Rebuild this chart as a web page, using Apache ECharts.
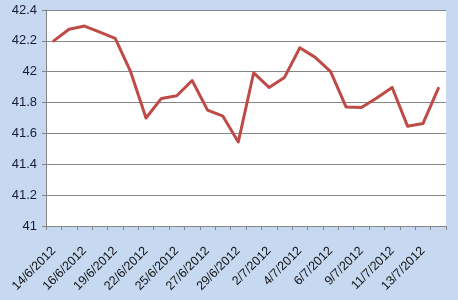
<!DOCTYPE html>
<html><head><meta charset="utf-8">
<script src="https://cdn.jsdelivr.net/npm/echarts@6/dist/echarts.min.js"></script>
<style>html,body{margin:0;padding:0;background:#c6d9f1;}#c{width:458px;height:300px;}</style>
</head><body><div id="c"></div>
<script>
const categories = ["14/6/2012","15/6/2012","16/6/2012","18/6/2012","19/6/2012","21/6/2012","22/6/2012","23/6/2012","25/6/2012","26/6/2012","27/6/2012","28/6/2012","29/6/2012","1/7/2012","2/7/2012","3/7/2012","4/7/2012","5/7/2012","6/7/2012","8/7/2012","9/7/2012","10/7/2012","11/7/2012","12/7/2012","13/7/2012","14/7/2012"];
const values = [42.20,42.275,42.296,42.256,42.216,42.0,41.70,41.827,41.844,41.943,41.751,41.712,41.545,41.993,41.898,41.963,42.155,42.093,42.0,41.772,41.768,41.83,41.898,41.647,41.664,41.892];
const yTicks = {min:41, max:42.4, step:0.2};

const chart = echarts.init(document.getElementById('c'), null, {renderer:'canvas'});
chart.setOption({
  backgroundColor:'#c6d9f1',
  animation:false,
  grid:{left:46,right:12,top:10,bottom:74,backgroundColor:'#ffffff',show:true,borderWidth:0},
  xAxis:{
    type:'category',
    data:categories,
    boundaryGap:true,
    axisLine:{lineStyle:{color:'#868686',width:1}},
    axisTick:{show:true,interval:0,length:4,lineStyle:{color:'#868686'}},
    axisLabel:{interval:1,rotate:45,margin:23,fontFamily:'Liberation Sans',fontSize:12.5,color:'#111'},
    splitLine:{show:false}
  },
  yAxis:{
    type:'value',
    min:yTicks.min,max:yTicks.max,interval:yTicks.step,
    axisLine:{show:true,lineStyle:{color:'#868686',width:1}},
    axisTick:{show:true,length:4,lineStyle:{color:'#868686'}},
    axisLabel:{margin:9,fontFamily:'Liberation Sans',fontSize:13,color:'#1a1a3a',
      formatter:function(v){return String(Math.round(v*10)/10);}},
    splitLine:{show:true,lineStyle:{color:'#868686',width:1}}
  },
  series:[{
    type:'line',
    data:values,
    symbol:'none',
    lineStyle:{color:'#be4b48',width:3,join:'round',cap:'round'},
    itemStyle:{color:'#be4b48'}
  }]
});
</script></body></html>
